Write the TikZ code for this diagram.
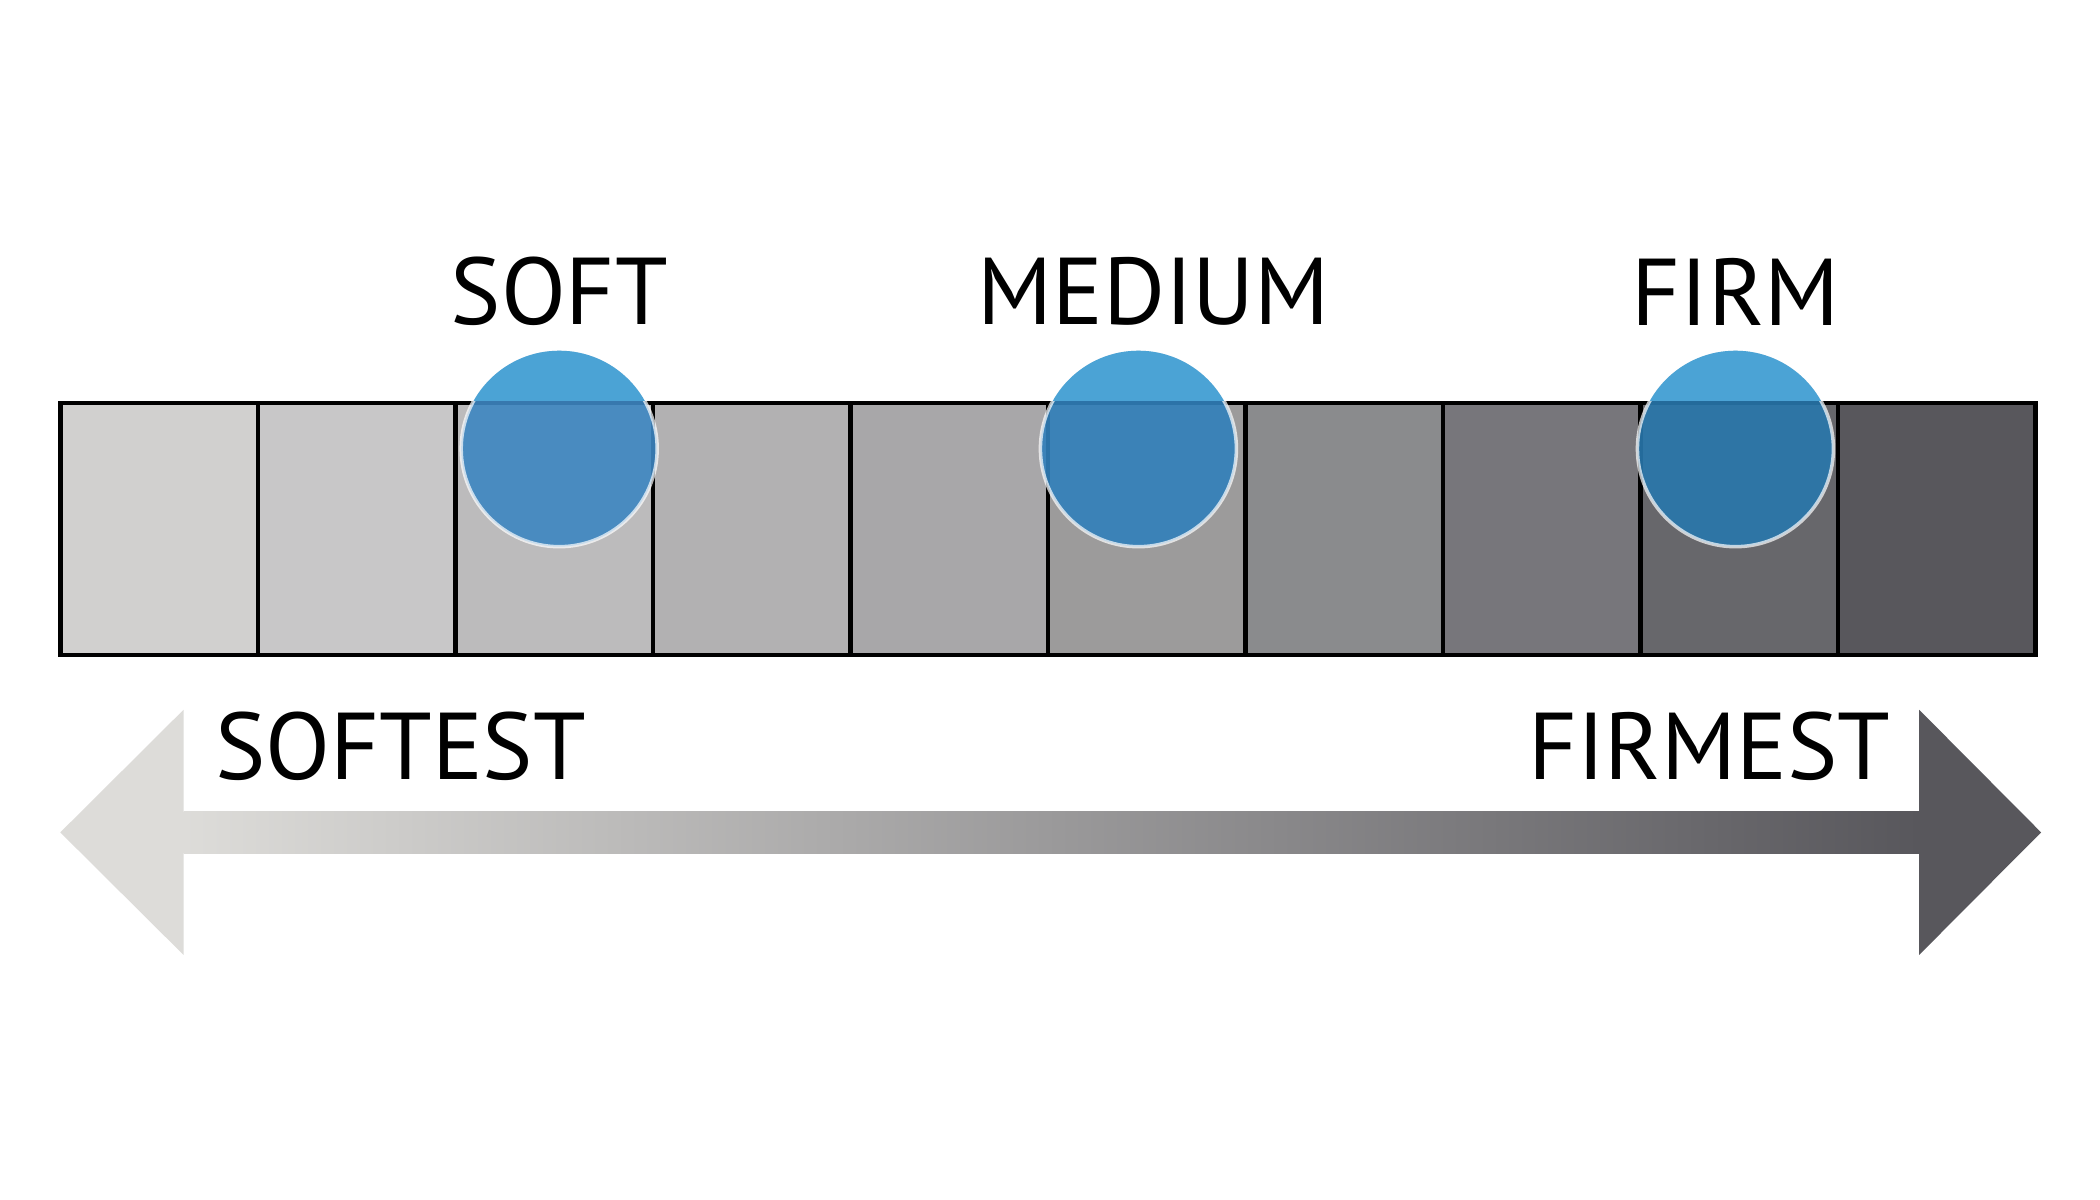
\documentclass[tikz,border=0pt]{standalone}
\usepackage{fontspec}
\setmainfont{PT Sans}
\usetikzlibrary{positioning}
\definecolor{g1}{HTML}{D1D0CF}
\definecolor{g2}{HTML}{C8C7C8}
\definecolor{g3}{HTML}{BCBBBC}
\definecolor{g4}{HTML}{B2B1B2}
\definecolor{g5}{HTML}{A8A7A9}
\definecolor{g6}{HTML}{9C9B9B}
\definecolor{g7}{HTML}{8A8B8D}
\definecolor{g8}{HTML}{77767B}
\definecolor{g9}{HTML}{67676B}
\definecolor{g10}{HTML}{58575C}
\definecolor{blueTop}{HTML}{4BA3D5}
\definecolor{blueSoft}{HTML}{3D86C1}
\definecolor{blueMedium}{HTML}{3180BB}
\definecolor{blueFirm}{HTML}{2877AC}
\definecolor{arrowL}{HTML}{DDDCD9}
\definecolor{arrowR}{HTML}{58575C}

\begin{document}
\begin{tikzpicture}[cell/.style = {draw=black, rectangle, minimum width=1.9754cm, minimum height=2.518cm, outer sep=0pt, line width=1.3pt},
  dot/.style = {circle, minimum size=1.96cm, fill opacity=0.9, draw=white, draw opacity=0.7, line width=1pt},
  tag/.style = {inner sep=0pt, font=\fontsize{27}{27}\selectfont}]
\useasboundingbox (0,0) rectangle (21,12);
\fill[white] (0,0) rectangle (21,12);

% the firmness scale
\node[cell, fill=g1] (c1) at (1.591,6.71) {};
\foreach \i [remember=\i as \j (initially 1)] in {2,...,10}
  \node[cell, fill=g\i, right=0pt of c\j] (c\i) {};

% the three levels
\foreach \n/\c/\dx/\col in {soft/c3/0.05/blueSoft, medium/c6/-0.084/blueMedium, firm/c9/-0.04/blueFirm} {
  \node[dot, fill=\col] (\n) at ([xshift=\dx cm, yshift=0.803cm]\c) {};
  \begin{scope}
    \clip (0,7.99) rectangle (21,9);
    \fill[blueTop] (\n.center) circle (0.98cm);
  \end{scope}
}

\node[tag, above=0.226cm of soft] (lsoft) {SOFT};
\node[tag, above=0.226cm of medium, xshift=0.15cm] (lmedium) {MEDIUM};
\node[tag, above=0.226cm of firm] (lfirm) {FIRM};

% the arrow below
\shade[left color=arrowL, right color=arrowR] (1.835,3.469) rectangle (19.192,3.884);
\fill[arrowL] (1.835,2.451) -- (0.603,3.676) -- (1.835,4.902) -- cycle;
\fill[arrowR] (19.192,2.451) -- (20.411,3.676) -- (19.192,4.902) -- cycle;

\node[tag, anchor=base west] (softest) at (2.143,4.205) {SOFTEST};
\node[tag, anchor=base east] (firmest) at (18.911,4.205) {FIRMEST};

\end{tikzpicture}
\end{document}
